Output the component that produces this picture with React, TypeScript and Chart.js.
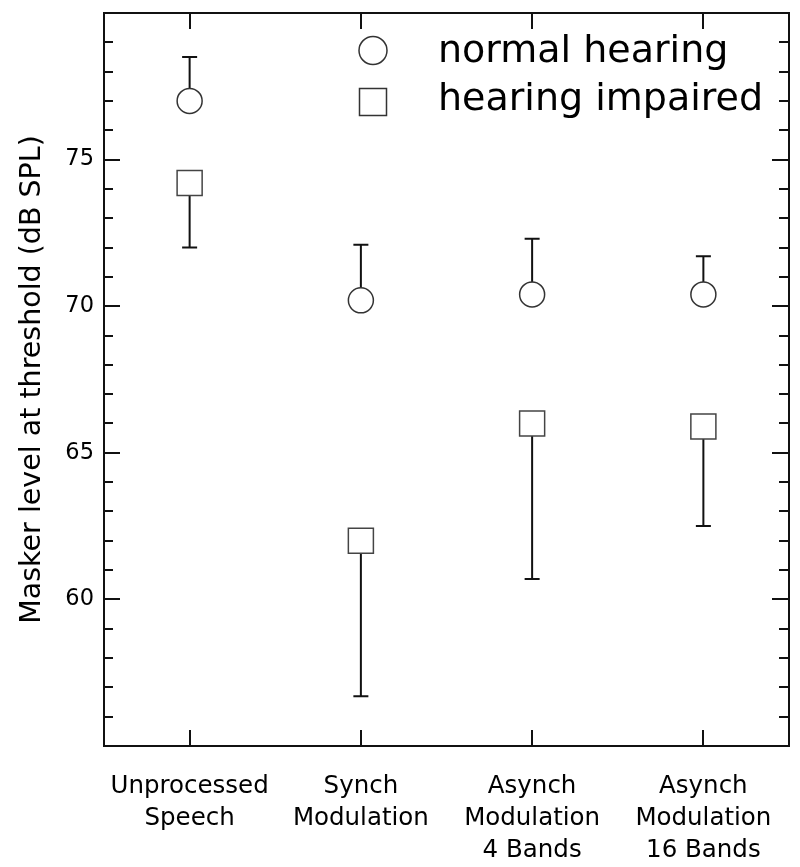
import React, { useEffect, useRef } from "react";
import { Chart, registerables } from "chart.js";

Chart.register(...registerables);

const categories = [
  ["Unprocessed", "Speech"],
  ["Synch", "Modulation"],
  ["Asynch", "Modulation", "4 Bands"],
  ["Asynch", "Modulation", "16 Bands"],
];
const normalHearing = [77.0, 70.2, 70.4, 70.4];
const normalHearingUpper = [78.5, 72.1, 72.3, 71.7];
const hearingImpaired = [74.2, 62.0, 66.0, 65.9];
const hearingImpairedLower = [72.0, 56.7, 60.7, 62.5];
const yTickValues = [60, 65, 70, 75];
const yMin = 55;
const yMax = 80;
const seriesLabels = ["normal hearing", "hearing impaired"];
const yTitle = "Masker level at threshold (dB SPL)";

const FONT = "'DejaVu Sans', sans-serif";

const errorBarPlugin = {
  id: "errorBars",
  beforeDatasetsDraw(chart: any) {
    const ctx = chart.ctx;
    const x = chart.scales.x;
    const y = chart.scales.y;
    const bounds = [normalHearingUpper, hearingImpairedLower];
    const values = [normalHearing, hearingImpaired];
    ctx.save();
    ctx.strokeStyle = "#111";
    ctx.lineWidth = 2;
    bounds.forEach((b, di) => {
      b.forEach((bv, i) => {
        const px = x.getPixelForValue(i);
        const py0 = y.getPixelForValue(values[di][i]);
        const py1 = y.getPixelForValue(bv);
        ctx.beginPath();
        ctx.moveTo(px, py0);
        ctx.lineTo(px, py1);
        ctx.moveTo(px - 7.5, py1);
        ctx.lineTo(px + 7.5, py1);
        ctx.stroke();
      });
    });
    ctx.restore();
  },
};

const framePlugin = {
  id: "frameTicks",
  afterDraw(chart: any) {
    const ctx = chart.ctx;
    const { left, right, top, bottom } = chart.chartArea;
    const x = chart.scales.x;
    const y = chart.scales.y;
    ctx.save();
    ctx.strokeStyle = "#111";
    ctx.lineWidth = 2;
    ctx.strokeRect(left, top, right - left, bottom - top);
    ctx.beginPath();
    for (let v = yMin + 1; v < yMax; v++) {
      const py = Math.round(y.getPixelForValue(v));
      const major = v % 5 === 0;
      ctx.moveTo(left, py);
      ctx.lineTo(left + (major ? 16 : 9), py);
      ctx.moveTo(right, py);
      ctx.lineTo(right - (major ? 17 : 10), py);
    }
    categories.forEach((_, i) => {
      const px = Math.round(x.getPixelForValue(i));
      ctx.moveTo(px, bottom);
      ctx.lineTo(px, bottom - 16);
      ctx.moveTo(px, top);
      ctx.lineTo(px, top + 16);
    });
    ctx.stroke();
    ctx.restore();
  },
};

const legendPlugin = {
  id: "customLegend",
  afterDraw(chart: any) {
    const ctx = chart.ctx;
    ctx.save();
    ctx.strokeStyle = "#333";
    ctx.lineWidth = 1.5;
    ctx.fillStyle = "#fff";
    ctx.beginPath();
    ctx.arc(373, 50.5, 14, 0, Math.PI * 2);
    ctx.fill();
    ctx.stroke();
    ctx.beginPath();
    ctx.rect(359.5, 88.5, 27, 27);
    ctx.fill();
    ctx.stroke();
    ctx.fillStyle = "#000";
    ctx.font = `38px ${FONT}`;
    ctx.textAlign = "left";
    ctx.textBaseline = "alphabetic";
    ctx.fillText(seriesLabels[0], 438, 62);
    ctx.fillText(seriesLabels[1], 438, 110);
    ctx.restore();
  },
};

export default function App() {
  const canvasRef = useRef<HTMLCanvasElement | null>(null);

  useEffect(() => {
    document.body.style.margin = "0";
    const canvas = canvasRef.current;
    if (!canvas) return;
    const chart = new Chart(canvas, {
      type: "line",
      data: {
        labels: categories as any,
        datasets: [
          {
            label: seriesLabels[0],
            data: normalHearing,
            showLine: false,
            pointStyle: "circle",
            pointRadius: 12.5,
            pointBorderWidth: 1.5,
            pointBorderColor: "#333",
            pointBackgroundColor: "#fff",
          },
          {
            label: seriesLabels[1],
            data: hearingImpaired,
            showLine: false,
            pointStyle: "rect",
            pointRadius: 17.7,
            pointBorderWidth: 1.5,
            pointBorderColor: "#444",
            pointBackgroundColor: "#fff",
          },
        ],
      },
      options: {
        responsive: false,
        animation: false,
        events: [],
        layout: { autoPadding: false, padding: { top: 13, right: 11, left: 0, bottom: 0 } },
        plugins: {
          legend: { display: false },
          tooltip: { enabled: false },
        },
        scales: {
          x: {
            type: "category",
            offset: true,
            grid: { display: false, drawTicks: false },
            border: { display: false },
            ticks: {
              color: "#000",
              padding: 25,
              maxRotation: 0,
              autoSkip: false,
              font: { family: FONT, size: 24.5, lineHeight: 1.3 },
            },
            afterFit: (s: any) => {
              s.height = 121;
              s.paddingLeft = 0;
              s.paddingRight = 0;
            },
          },
          y: {
            min: yMin,
            max: yMax,
            grid: { display: false, drawTicks: false },
            border: { display: false },
            afterBuildTicks: (s: any) => {
              s.ticks = yTickValues.map((v) => ({ value: v }));
            },
            ticks: {
              color: "#000",
              padding: 10,
              font: { family: FONT, size: 22.5 },
            },
            title: {
              display: true,
              text: yTitle,
              color: "#000",
              font: { family: FONT, size: 28.5 },
              padding: { top: 15, bottom: 0 },
            },
            afterFit: (s: any) => {
              s.width = 104;
              s.paddingTop = 0;
              s.paddingBottom = 0;
            },
          },
        },
      },
      plugins: [errorBarPlugin, framePlugin, legendPlugin],
    } as any);
    return () => chart.destroy();
  }, []);

  return (
    <div style={{ width: 800, height: 867, background: "#fff" }}>
      <canvas ref={canvasRef} width={800} height={867} />
    </div>
  );
}
